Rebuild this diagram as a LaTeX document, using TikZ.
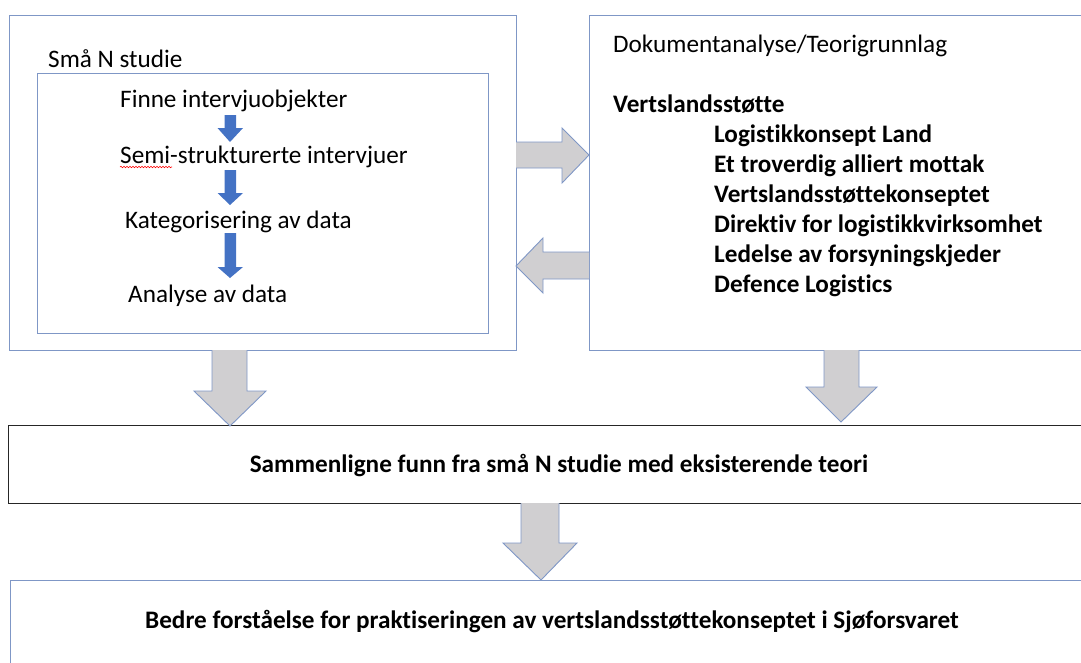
\documentclass[tikz,border=0pt]{standalone}
\usepackage{fontspec}
\setmainfont[Ligatures=CommonOff]{Carlito}
\usetikzlibrary{decorations.pathmorphing}
\definecolor{boxblue}{HTML}{7F97C6}
\definecolor{arrowgrey}{HTML}{D0CFD1}
\definecolor{stepblue}{HTML}{4472C4}
\begin{document}
\begin{tikzpicture}[x=1pt,y=-1pt,
  boxline/.style={draw=boxblue,line width=1pt},
  txt/.style={anchor=base west,inner sep=0pt,font=\fontsize{25.2}{30}\selectfont},
  btxt/.style={anchor=base west,inner sep=0pt,font=\fontsize{25.2}{30}\selectfont\bfseries},
  ctxt/.style={anchor=base,inner sep=0pt,font=\fontsize{25.2}{30}\selectfont\bfseries},
  greyarrow/.style={fill=arrowgrey,draw=boxblue,line width=0.9pt,line join=miter},
  bluearrow/.style={fill=stepblue,draw=none}]
\useasboundingbox (0,0) rectangle (1081,662);
% boxes
\draw[boxline] (9,15) rectangle (516,350);
\draw[boxline] (37,73) rectangle (488,333);
\draw[boxline] (589,15) -- (1090,15) (589,15) -- (589,350) -- (1090,350);
\draw[draw=black!85,line width=1pt] (1090,425) -- (8,425) -- (8,503) -- (1090,503);
\draw[boxline] (1090,580) -- (10,580) -- (10,670);
% left texts
\node[txt] (sma) at (48,67) {Små N studie};
\node[txt] (t1) at (120,107) {Finne intervjuobjekter};
\node[txt] (t2) at (120,163) {Semi-strukturerte intervjuer};
\node[txt] (t3) at (125,228) {Kategorisering av data};
\node[txt] (t4) at (128,302) {Analyse av data};
\draw[red,line width=0.6pt,decorate,decoration={snake,amplitude=0.7pt,segment length=3pt}] (120,167) -- (172,167);
% blue step arrows
\path[bluearrow] (224.5,115) -- (236,115) -- (236,128) -- (243,128) -- (230,142) -- (217.5,128) -- (224.5,128) -- cycle;
\path[bluearrow] (224.5,170) -- (236,170) -- (236,193) -- (243,193) -- (230,205) -- (217.5,193) -- (224.5,193) -- cycle;
\path[bluearrow] (224.5,233) -- (236,233) -- (236,267) -- (243,267) -- (230,278) -- (217.5,267) -- (224.5,267) -- cycle;
% right texts
\node[txt] (doc) at (613,52) {Dokumentanalyse/Teorigrunnlag};
\node[btxt] (vert) at (613,112) {Vertslandsstøtte};
\node[btxt] (l1) at (714,142) {Logistikkonsept Land};
\node[btxt] (l2) at (714,172) {Et troverdig alliert mottak};
\node[btxt] (l3) at (714,202) {Vertslandsstøttekonseptet};
\node[btxt] (l4) at (714,232) {Direktiv for logistikkvirksomhet};
\node[btxt] (l5) at (714,262) {Ledelse av forsyningskjeder};
\node[btxt] (l6) at (714,292) {Defence Logistics};
% bottom texts
\node[ctxt] (cmp) at (559,472) {Sammenligne funn fra små N studie med eksisterende teori};
\node[ctxt] (res) at (552,628) {Bedre forståelse for praktiseringen av vertslandsstøttekonseptet i Sjøforsvaret};
% grey block arrows
\draw[greyarrow] (516,142) -- (562,142) -- (562,128) -- (589,155) -- (562,183) -- (562,168) -- (516,168) ;
\draw[greyarrow] (589,252) -- (543,252) -- (543,238) -- (516,266) -- (543,293) -- (543,279) -- (589,279);
\draw[greyarrow] (212,350) -- (212,391) -- (194,391) -- (230,426) -- (266,391) -- (247,391) -- (247,350);
\draw[greyarrow] (824,350) -- (824,387) -- (806,387) -- (841,422) -- (877,387) -- (859,387) -- (859,350);
\draw[greyarrow] (521,503) -- (521,543) -- (503,543) -- (541,580) -- (577,543) -- (559,543) -- (559,503);
\end{tikzpicture}
\end{document}
